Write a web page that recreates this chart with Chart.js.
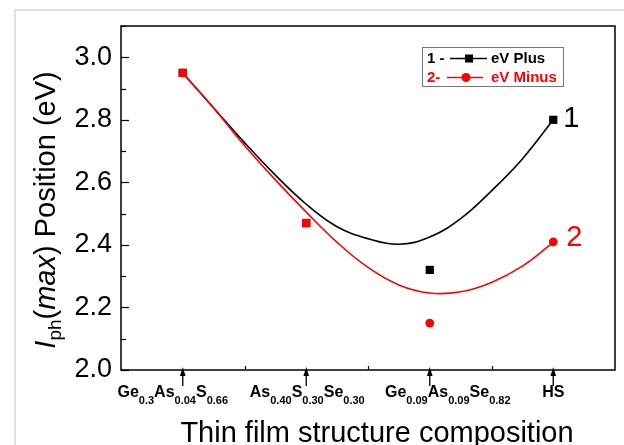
<!DOCTYPE html>
<html>
<head>
<meta charset="utf-8">
<script src="https://cdn.jsdelivr.net/npm/chart.js@4.4.0/dist/chart.umd.min.js"></script>
<style>
  html, body { margin: 0; padding: 0; background: #fff; }
  #wrap { width: 624px; height: 445px; }
</style>
</head>
<body>
<div id="wrap"><canvas id="chart" width="624" height="445"></canvas></div>
<script>
// Film compositions along the x axis (numbers are drawn as subscripts)
const categories = ['Ge0.3As0.04S0.66', 'As0.40S0.30Se0.30', 'Ge0.09As0.09Se0.82', 'HS'];

// Measured Iph(max) peak positions, eV
const plusValues  = [2.95, 2.47, 2.32, 2.80];
const minusValues = [2.95, 2.47, 2.15, 2.41];

// Smoothed trend curves through the measurements
const fitX      = [1, 1.25, 1.5, 1.75, 2, 2.25, 2.5, 2.75, 3, 3.25, 3.5, 3.75, 4];
const plusFit   = [2.95, 2.838, 2.727, 2.623, 2.530, 2.458, 2.420, 2.402, 2.425, 2.484, 2.573, 2.675, 2.80];
const minusFit  = [2.95, 2.838, 2.718, 2.608, 2.505, 2.408, 2.328, 2.272, 2.246, 2.250, 2.280, 2.332, 2.408];

// Labelled y ticks
const yTicks = [2.0, 2.2, 2.4, 2.6, 2.8, 3.0];

const FONT = '"Liberation Sans", Arial, Helvetica, sans-serif';
const RED = '#ff0000';

function formulaParts(s) {
  return s.match(/[A-Z][a-z]?|[0-9.]+/g).map(t => ({ text: t, sub: /^[0-9.]/.test(t) }));
}

// Draws a run of text pieces one after another; returns the total width
function drawRun(ctx, pieces, x, y, measureOnly) {
  let w = 0;
  pieces.forEach(p => {
    ctx.font = p.font;
    if (!measureOnly) {
      ctx.fillText(p.text, x + w, y + (p.dy || 0));
    }
    w += ctx.measureText(p.text).width;
  });
  return w;
}

const decor = {
  id: 'decor',
  beforeDraw(chart) {
    const c = chart.ctx;
    c.save();
    c.fillStyle = '#fff';
    c.fillRect(0, 0, chart.width, chart.height);
    c.strokeStyle = '#d6d6d6';
    c.lineWidth = 1.5;
    c.beginPath();
    c.moveTo(15, chart.height);
    c.lineTo(15, 10);
    c.lineTo(chart.width, 10);
    c.stroke();
    c.restore();
  },
  afterDraw(chart) {
    const c = chart.ctx;
    const a = chart.chartArea;
    const xs = chart.scales.x, ys = chart.scales.y;
    c.save();

    // plot frame
    c.strokeStyle = '#000';
    c.lineWidth = 1.5;
    c.strokeRect(a.left, a.top, a.right - a.left, a.bottom - a.top);

    // y ticks, pointing into the plot
    c.lineWidth = 1.2;
    ys.ticks.forEach(t => {
      const y = Math.round(ys.getPixelForValue(t.value)) + 0.5;
      const major = yTicks.some(v => Math.abs(v - t.value) < 1e-6);
      c.beginPath();
      c.moveTo(a.left, y);
      c.lineTo(a.left + (major ? 8 : 5), y);
      c.stroke();
    });

    // minor x ticks between compositions
    for (let i = 1; i < categories.length; i++) {
      const x = Math.round(xs.getPixelForValue(i + 0.5)) + 0.5;
      c.beginPath();
      c.moveTo(x, a.bottom);
      c.lineTo(x, a.bottom - 4);
      c.stroke();
    }

    // arrows marking each composition
    c.fillStyle = '#000';
    categories.forEach((cat, i) => {
      const x = xs.getPixelForValue(i + 1);
      c.lineWidth = 1.3;
      c.beginPath();
      c.moveTo(x, a.bottom + 16);
      c.lineTo(x, a.bottom + 4);
      c.stroke();
      c.beginPath();
      c.moveTo(x, a.bottom - 3);
      c.lineTo(x - 2.8, a.bottom + 6);
      c.lineTo(x + 2.8, a.bottom + 6);
      c.closePath();
      c.fill();
    });

    // composition labels with subscripts
    const labelShift = [-10, 1, 18, 0];
    c.fillStyle = '#000';
    c.textBaseline = 'alphabetic';
    c.textAlign = 'left';
    categories.forEach((cat, i) => {
      const pieces = formulaParts(cat).map(p => p.sub
        ? { text: p.text, font: 'bold 11px ' + FONT, dy: 7 }
        : { text: p.text, font: 'bold 16px ' + FONT });
      const w = drawRun(c, pieces, 0, 0, true);
      const cx = xs.getPixelForValue(i + 1) + labelShift[i];
      drawRun(c, pieces, cx - w / 2, a.bottom + 27, false);
    });

    // x axis title
    c.font = '29px ' + FONT;
    c.textAlign = 'center';
    c.fillText('Thin film structure composition', (a.left + a.right) / 2 + 9, 442);

    // y axis title: I_ph(max) Position (eV)
    c.save();
    c.translate(55, 210);
    c.rotate(-Math.PI / 2);
    c.textAlign = 'left';
    const yt = [
      { text: 'I', font: 'italic 29px ' + FONT },
      { text: 'ph', font: '19px ' + FONT, dy: 6 },
      { text: '(', font: '29px ' + FONT },
      { text: 'max', font: 'italic 29px ' + FONT },
      { text: ') Position (eV)', font: '29px ' + FONT }
    ];
    const yw = drawRun(c, yt, 0, 0, true);
    drawRun(c, yt, -yw / 2, 0, false);
    c.restore();

    // curve numbers next to the last points
    const plusMeta = chart.getDatasetMeta(1).data;
    const minusMeta = chart.getDatasetMeta(0).data;
    c.font = '29px ' + FONT;
    c.textAlign = 'left';
    c.textBaseline = 'middle';
    const pLast = plusMeta[plusMeta.length - 1];
    const mLast = minusMeta[minusMeta.length - 1];
    c.fillStyle = '#000';
    c.fillText('1', pLast.x + 10, pLast.y - 1);
    c.fillStyle = RED;
    c.fillText('2', mLast.x + 13, mLast.y - 4);

    // legend
    const ds = chart.data.datasets;
    c.lineWidth = 1;
    c.strokeStyle = '#777';
    c.strokeRect(422.5, 47.5, 141, 39);
    c.font = 'bold 15px ' + FONT;
    c.textBaseline = 'middle';
    let ry = 58.5;
    c.fillStyle = '#000';
    c.fillText('1 -', 427, ry);
    c.strokeStyle = '#000';
    c.lineWidth = 1.5;
    c.beginPath(); c.moveTo(450, ry); c.lineTo(487, ry); c.stroke();
    c.fillRect(465, ry - 4, 8, 8);
    c.fillText(ds[1].label, 491, ry);
    ry = 77.5;
    c.fillStyle = RED;
    c.fillText('2-', 427, ry);
    c.strokeStyle = RED;
    c.beginPath(); c.moveTo(447, ry); c.lineTo(483, ry); c.stroke();
    c.beginPath(); c.arc(466, ry, 4.5, 0, Math.PI * 2); c.fill();
    c.fillText(ds[0].label, 491, ry);

    c.restore();
  }
};

new Chart(document.getElementById('chart'), {
  type: 'scatter',
  data: {
    datasets: [
      {
        label: 'eV Minus',
        data: minusValues.map((v, i) => ({ x: i + 1, y: v })),
        pointStyle: ['rect', 'rect', 'circle', 'circle'],
        pointRadius: [5.9, 5.9, 4.4, 4.4],
        backgroundColor: RED,
        borderColor: RED,
        borderWidth: 0,
        showLine: false,
        order: 0
      },
      {
        label: 'eV Plus',
        data: plusValues.map((v, i) => ({ x: i + 1, y: v })),
        pointStyle: 'rect',
        pointRadius: 5.8,
        backgroundColor: '#000',
        borderColor: '#000',
        borderWidth: 0,
        showLine: false,
        order: 1
      },
      {
        label: 'eV Minus trend',
        data: fitX.map((x, i) => ({ x: x, y: minusFit[i] })),
        showLine: true,
        pointRadius: 0,
        borderColor: RED,
        borderWidth: 1.6,
        tension: 0.4,
        order: 2
      },
      {
        label: 'eV Plus trend',
        data: fitX.map((x, i) => ({ x: x, y: plusFit[i] })),
        showLine: true,
        pointRadius: 0,
        borderColor: '#000',
        borderWidth: 1.6,
        tension: 0.4,
        order: 3
      }
    ]
  },
  options: {
    responsive: false,
    animation: false,
    devicePixelRatio: 1,
    layout: { padding: { left: 0, top: 26, right: 9, bottom: 75 } },
    plugins: { legend: { display: false }, tooltip: { enabled: false } },
    scales: {
      x: {
        type: 'linear',
        min: 0.5,
        max: 4.5,
        display: false
      },
      y: {
        min: 2.0,
        max: 3.1,
        grid: { display: false, drawTicks: false, tickLength: 0 },
        border: { display: false },
        ticks: {
          stepSize: 0.1,
          autoSkip: false,
          padding: 9,
          color: '#000',
          font: { family: FONT, size: 27 },
          callback: v => yTicks.some(t => Math.abs(t - v) < 1e-6) ? Number(v).toFixed(1) : ''
        },
        afterFit(scale) { scale.width = 121; }
      }
    }
  },
  plugins: [decor]
});
</script>
</body>
</html>
